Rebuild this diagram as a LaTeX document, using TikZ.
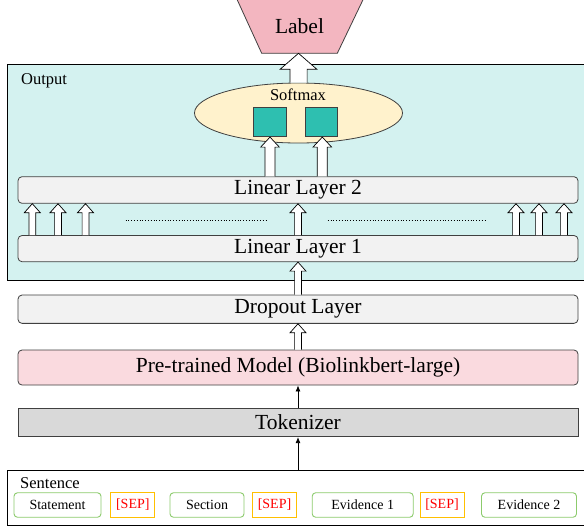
\documentclass[tikz,border=0pt]{standalone}
\usepackage{fontspec}
\setmainfont{Liberation Serif}
\usetikzlibrary{calc,shapes.geometric,arrows.meta}
\definecolor{labelpink}{HTML}{F3B6C0}
\definecolor{prepink}{HTML}{FADADF}
\definecolor{outcyan}{HTML}{D4F2F0}
\definecolor{softyel}{HTML}{FFF2CC}
\definecolor{sqteal}{HTML}{2EBFB0}
\definecolor{laygray}{HTML}{F2F2F2}
\definecolor{tokgray}{HTML}{D9D9D9}
\definecolor{tokgreen}{HTML}{8CCB6C}
\definecolor{sepor}{HTML}{FFC000}
\definecolor{edge}{HTML}{404040}
\tikzset{
  layer/.style={draw=edge, line width=0.8pt, rounded corners=4pt, fill=laygray,
    minimum width=560pt, inner sep=0pt, font=\fontsize{21.5}{24}\selectfont},
  hollowarr/.style={draw=black, fill=white, line width=0.7pt, line join=miter},
  thinarr/.style={draw=black, line width=0.8pt, -{Latex[length=6pt,width=5pt]}},
  tokbox/.style={draw=tokgreen, line width=0.9pt, rounded corners=3.5pt, minimum height=24.5pt,
    inner sep=0pt, font=\fontsize{14}{16}\selectfont},
  sepbox/.style={draw=sepor, line width=0.9pt, minimum height=24.5pt, minimum width=44pt,
    inner sep=0pt, text=red, font=\fontsize{14}{16}\selectfont},
  smalltxt/.style={inner sep=0pt, font=\fontsize{16.5}{18}\selectfont}
}
\newcommand{\uparr}[5]{%
  \path #1 coordinate (ua-s);
  \path #2 coordinate (ua-e);
  \filldraw[hollowarr] let \p1=(ua-s), \p2=(ua-e) in
    (\x1-#3,\y1) -- (\x1-#3,\y2-#5) -- (\x1-#4,\y2-#5) -- (\x1,\y2)
    -- (\x1+#4,\y2-#5) -- (\x1+#3,\y2-#5) -- (\x1+#3,\y1);
}
\begin{document}
\begin{tikzpicture}[x=1pt,y=-1pt]
\clip (0,0) rectangle (584,528);
\fill[white] (0,0) rectangle (584,528);

% Output panel
\node[draw=black, line width=0.8pt, fill=outcyan, minimum width=583pt, minimum height=215.7pt, inner sep=0pt]
  (outbox) at (298.5,172.15) {};
\node[smalltxt, anchor=west] (outlbl) at (21,81) {Output};

% Label trapezoid
\draw[draw=edge, line width=0.8pt, fill=labelpink]
  (235.5,-4) -- (364.8,-4) -- (337.3,53.3) -- (261.7,53.3) -- cycle;
\node[inner sep=0pt, font=\fontsize{21.5}{24}\selectfont] (label) at (299.5,26) {Label};
\coordinate (labelb) at (298.5,53.3);

% Softmax
\node[ellipse, draw=edge, line width=0.8pt, fill=softyel, minimum width=208pt, minimum height=60pt, inner sep=0pt]
  (sm) at (298.5,113) {};
\node[smalltxt] (smtxt) at (298,95) {Softmax};
\node[draw=edge, line width=0.8pt, fill=sqteal, minimum width=32.7pt, minimum height=29.4pt, inner sep=0pt]
  (sq1) at (269.7,122) {};
\node[draw=edge, line width=0.8pt, fill=sqteal, minimum width=32.7pt, minimum height=29.4pt, inner sep=0pt]
  (sq2) at (321.4,122) {};

% Layers
\node[layer, minimum height=26.6pt] (l2) at (298,190) {Linear Layer 2};
\node[layer, minimum height=26.2pt] (l1) at (298,248.6) {Linear Layer 1};
\node[layer, minimum height=28.3pt] (drop) at (298,309.2) {Dropout Layer};
\node[layer, minimum height=35pt, fill=prepink] (pre) at (298,367.5) {Pre-trained Model (Biolinkbert-large)};
\node[layer, rounded corners=0pt, minimum height=28.4pt, fill=tokgray]
  (tok) at (298,422.5) {Tokenizer};

% Sentence panel
\node[draw=black, line width=0.8pt, fill=white, minimum width=582.5pt, minimum height=55.7pt, inner sep=0pt]
  (sent) at (298.75,497.85) {};
\node[smalltxt, anchor=west] (sentlbl) at (20,483) {Sentence};
\node[tokbox, minimum width=87pt] (t1) at (57.5,505) {Statement};
\node[sepbox] (s1) at (132.8,505) {[SEP]};
\node[tokbox, minimum width=74pt] (t2) at (207,505) {Section};
\node[sepbox] (s2) at (274.5,505) {[SEP]};
\node[tokbox, minimum width=101pt] (t3) at (362.7,505) {Evidence 1};
\node[sepbox] (s3) at (442,505) {[SEP]};
\node[tokbox, minimum width=95pt] (t4) at (529,505) {Evidence 2};

% Thin arrows
\draw[thinarr] (sent.north -| tok.south) -- (tok.south);
\draw[thinarr] (tok.north) -- (pre.south);

% Hollow arrows
\uparr{(pre.north)}{(drop.south)}{3.4pt}{8pt}{9pt}
\uparr{(drop.north)}{(l1.south)}{3.4pt}{8pt}{9pt}
\foreach \dx in {-265.7,-240,-212.5,0,218,241,266}{
  \uparr{([xshift=\dx pt]l1.north)}{([xshift=\dx pt]l2.south)}{3.4pt}{8pt}{9pt}
}
\uparr{([xshift=-28pt]l2.north)}{(sq1.south)}{5pt}{9.3pt}{10pt}
\uparr{([xshift=24.3pt]l2.north)}{(sq2.south)}{5pt}{9.3pt}{10pt}
\uparr{(sm.north)}{(labelb)}{8.6pt}{18.4pt}{16pt}

% dotted runs between arrows
\draw[line width=0.8pt, dotted] (125.5,220) -- (267,220);
\draw[line width=0.8pt, dotted] (327.7,220) -- (486,220);
\end{tikzpicture}
\end{document}
